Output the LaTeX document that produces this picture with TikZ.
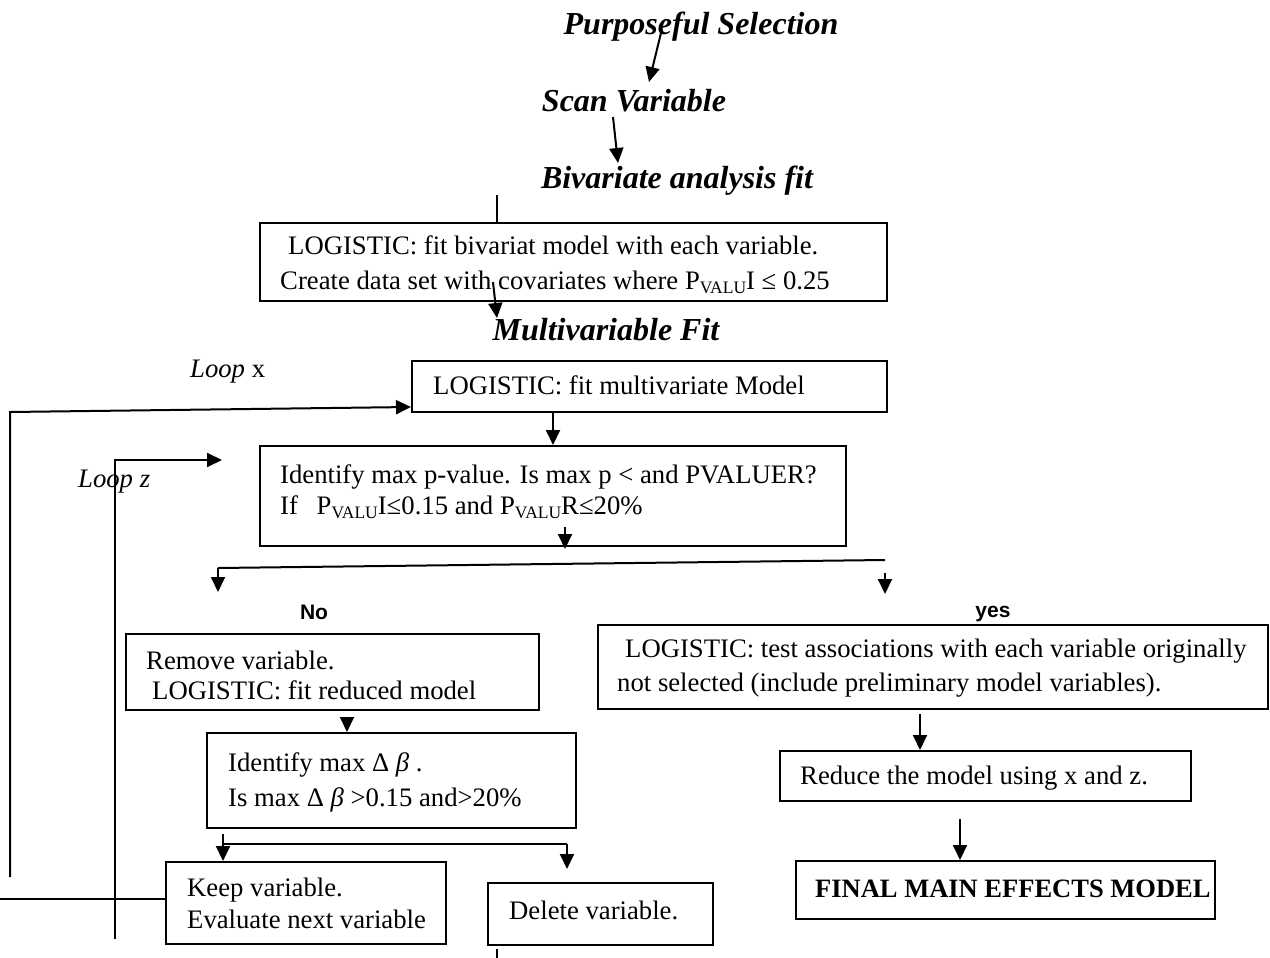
\documentclass[tikz,border=0pt]{standalone}
\usepackage{fontspec}
\setmainfont{Liberation Serif}
\newfontfamily\arialfont{Liberation Sans}
\usetikzlibrary{arrows.meta,calc}
\newcommand\valusub{\raisebox{-0.35ex}{\fontsize{17.5}{18}\selectfont VALU}}
\begin{document}
\begin{tikzpicture}[x=1pt,y=-1pt,
  box/.style={draw, line width=2pt, inner sep=0pt, anchor=north west},
  txt/.style={inner sep=0pt, anchor=base west, font=\fontsize{26.7}{32}\selectfont},
  head/.style={inner sep=0pt, anchor=base, font=\fontsize{32}{36}\selectfont\bfseries\itshape},
  lbl/.style={inner sep=0pt, anchor=base, font=\arialfont\bfseries\fontsize{21}{24}\selectfont},
  conn/.style={line width=2pt},
  arr/.style={line width=2pt, -{Triangle[length=15pt,width=14pt]}},
]
\useasboundingbox (0,0) rectangle (1270,958);

% headings
\node[head] (h1) at (701,35) {Purposeful Selection};
\node[head] (h2) at (634,111) {Scan Variable};
\node[head] (h3) at (677,188) {Bivariate analysis fit};
\node[head] (h4) at (606,340) {Multivariable Fit};

% boxes
\node[box, minimum width=627pt, minimum height=78pt] (b1) at (259,222) {};
\node[box, minimum width=475pt, minimum height=51pt] (b2) at (411,360) {};
\node[box, minimum width=586pt, minimum height=100pt] (b3) at (259,445) {};
\node[box, minimum width=413pt, minimum height=76pt] (b4) at (125,633) {};
\node[box, minimum width=670pt, minimum height=84pt] (b5) at (597,624) {};
\node[box, minimum width=369pt, minimum height=95pt] (b6) at (206,732) {};
\node[box, minimum width=280pt, minimum height=82pt] (b7) at (165,861) {};
\node[box, minimum width=225pt, minimum height=62pt] (b8) at (487,882) {};
\node[box, minimum width=411pt, minimum height=50pt] (b9) at (779,750) {};
\node[box, minimum width=419pt, minimum height=58pt] (b10) at (795,860) {};

% box texts
\node[txt] (t1a) at (288,254) {LOGISTIC: fit bivariat model with each variable.};
\node[txt] (t1b) at (280,289) {Create data set with covariates where P\valusub I ≤ 0.25};
\node[txt] (t2) at (433,394) {LOGISTIC: fit multivariate Model};
\node[txt] (t3a) at (280,483) {Identify max p-value. Is max p < and PVALUER?};
\node[txt] (t3b) at (280,514) {If\hspace{12pt} P\valusub I≤0.15 and P\valusub R≤20\%};
\node[txt] (t4a) at (146,669) {Remove variable.};
\node[txt] (t4b) at (152,699) {LOGISTIC: fit reduced model};
\node[txt] (t5a) at (625,657) {LOGISTIC: test associations with each variable originally};
\node[txt] (t5b) at (617,691) {not selected (include preliminary model variables).};
\node[txt] (t6a) at (228,771) {Identify max Δ \textit{β} .};
\node[txt] (t6b) at (228,806) {Is max Δ \textit{β} >0.15 and>20\%};
\node[txt] (t7a) at (187,896) {Keep variable.};
\node[txt] (t7b) at (187,928) {Evaluate next variable};
\node[txt] (t8) at (509,919) {Delete variable.};
\node[txt] (t9) at (800,784) {Reduce the model using x and z.};
\node[txt, font=\fontsize{26.5}{32}\selectfont\bfseries] (t10) at (815,897) {FINAL MAIN EFFECTS MODEL};

% loop labels and branch labels
\node[txt] (lx) at (190,377) {\textit{Loop} x};
\node[txt] (lz) at (78,487) {\textit{Loop z}};
\node[lbl] (no) at (314,619) {No};
\node[lbl] (yes) at (993,617) {yes};

% free-end coordinates
\coordinate (p1) at (661,33);
\coordinate (p2) at (649,82);
\coordinate (p3) at (613,117);
\coordinate (p4) at (618,163);
\coordinate (p5) at (497,195);
\coordinate (p6) at (493,282);
\coordinate (p7) at (497,318);
\coordinate (lxa) at (10,877);
\coordinate (lxb) at (10,412);
\coordinate (lza) at (115,939);
\coordinate (lzb) at (115,460);
\coordinate (lzc) at (222,460);
\coordinate (s1) at (565,527);
\coordinate (s2) at (565,549);
\coordinate (sl) at (218,568);
\coordinate (sr) at (885,560);
\coordinate (sla) at (218,592);
\coordinate (sra) at (885,573);
\coordinate (srb) at (885,594);
\coordinate (k1) at (223,834);
\coordinate (k2) at (222,844);
\coordinate (k3) at (567,844);
\coordinate (k4) at (567,869);
\coordinate (e0) at (0,899);
\coordinate (d1) at (497,958);

% connectors
\draw[arr] (p1) -- (p2);
\draw[arr] (p3) -- (p4);
\draw[conn] (p5) -- (b1.north -| p5);
\draw[arr] (p6) -- (p7);
\draw[arr] (lxa) -- (lxb) -- ($(b2.south west)+(0,-6)$);
\draw[arr] ($(b2.south west)+(142,0)$) -- ($(b3.north west)+(294,0)$);
\draw[arr] (lza) -- (lzb) -- (lzc);
\draw[arr] (s1) -- (s2);
\draw[conn] (sl) -- (sr);
\draw[arr] (sl) -- (sla);
\draw[arr] (sra) -- (srb);
\draw[arr] ($(b4.south west)+(222,6)$) -- ($(b6.north west)+(141,0)$);
\draw[arr] (k1) -- (b7.north -| k1);
\draw[conn] (k2) -- (k3);
\draw[arr] (k3) -- (k4);
\draw[conn] (e0) -- (b7.west |- e0);
\draw[conn] ($(b8.south -| d1)+(0,3)$) -- (d1);
\draw[arr] ($(b5.south west)+(323,4)$) -- ($(b9.north west)+(141,0)$);
\draw[arr] ($(b9.south west)+(181,17)$) -- ($(b10.north west)+(165,0)$);
\end{tikzpicture}
\end{document}
